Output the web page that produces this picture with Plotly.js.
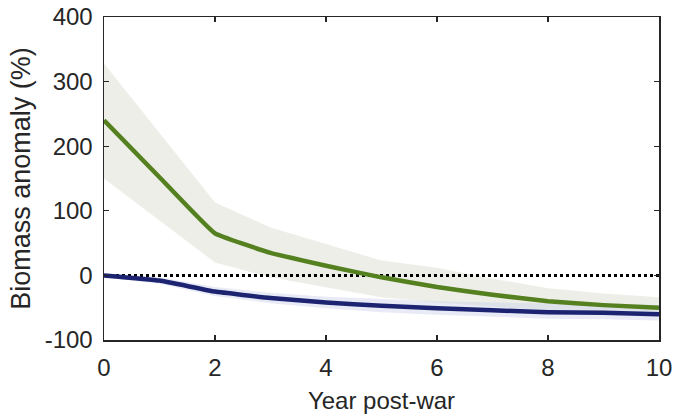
<!DOCTYPE html>
<html>
<head>
<meta charset="utf-8">
<script src="https://cdn.plot.ly/plotly-3.0.1.min.js"></script>
<style>html,body{margin:0;padding:0;background:#fff;}#chart{width:677px;height:419px;}</style>
</head>
<body>
<div id="chart"></div>
<script>
const years = [0,1,2,3,4,5,6,7,8,9,10];
const greenMean = [240,152,65,35,15,-3,-18,-30,-40,-46,-50];
const greenUpper = [328,220,113,74,49,23,12,-5,-20,-28,-34];
const greenLower = [150,85,20,-3,-19,-34,-42,-48,-54,-57,-59];
const blueMean = [0,-8,-25,-35,-42,-47,-51,-54,-57,-58,-60];
const blueUpper = [3,-3,-18,-27,-33,-37,-40,-42,-44,-45,-46];
const blueLower = [-3,-13,-32,-43,-51,-57,-61,-64,-67,-68,-70];
const zeroLine = [0,0,0,0,0,0,0,0,0,0,0];

const traces = [
  {x: years, y: greenUpper, mode:'lines', line:{width:0, color:'rgba(0,0,0,0)'}, showlegend:false, hoverinfo:'skip'},
  {x: years, y: greenLower, mode:'lines', fill:'tonexty', fillcolor:'rgba(234,236,228,0.9)', line:{width:0, color:'rgba(0,0,0,0)'}, showlegend:false, hoverinfo:'skip'},
  {x: years, y: blueUpper, mode:'lines', line:{width:0, color:'rgba(0,0,0,0)'}, showlegend:false, hoverinfo:'skip'},
  {x: years, y: blueLower, mode:'lines', fill:'tonexty', fillcolor:'rgba(205,208,232,0.45)', line:{width:0, color:'rgba(0,0,0,0)'}, showlegend:false, hoverinfo:'skip'},
  {x: years, y: zeroLine, mode:'lines', line:{color:'#000', width:3, dash:'dot'}, showlegend:false},
  {x: years, y: greenMean, mode:'lines', line:{color:'#558020', width:4.5, shape:'spline', smoothing:0.3}, showlegend:false},
  {x: years, y: blueMean, mode:'lines', line:{color:'#1c2472', width:4.5, shape:'spline', smoothing:0.3}, showlegend:false}
];

const FONT = 'Liberation Sans, Arial, sans-serif';
const axisCommon = {
  showline:true, mirror:'ticks', linecolor:'#262626', linewidth:1.5,
  ticks:'inside', ticklen:5, tickwidth:1.2, tickcolor:'#262626',
  showgrid:false, zeroline:false,
  tickfont:{family:FONT, size:24, color:'#262626'}
};

const layout = {
  width:677, height:419,
  margin:{l:104, r:18, t:17, b:79},
  paper_bgcolor:'#fff', plot_bgcolor:'#fff',
  showlegend:false,
  xaxis: Object.assign({}, axisCommon, {
    range:[0,10], tickvals:[0,2,4,6,8,10], ticktext:['0','2','4','6','8','10'],
    ticklabelstandoff:6,
    title:{text:'Year post-war', font:{family:FONT, size:24, color:'#262626'}, standoff:12}
  }),
  yaxis: Object.assign({}, axisCommon, {
    range:[-100,400], tickvals:[-100,0,100,200,300,400], ticktext:['-100','0','100','200','300','400'],
    ticklabelstandoff:5,
    title:{text:'Biomass anomaly (%)', font:{family:FONT, size:27, color:'#262626'}, standoff:6}
  })
};

Plotly.newPlot('chart', traces, layout, {displayModeBar:false, staticPlot:true});
</script>
</body>
</html>
